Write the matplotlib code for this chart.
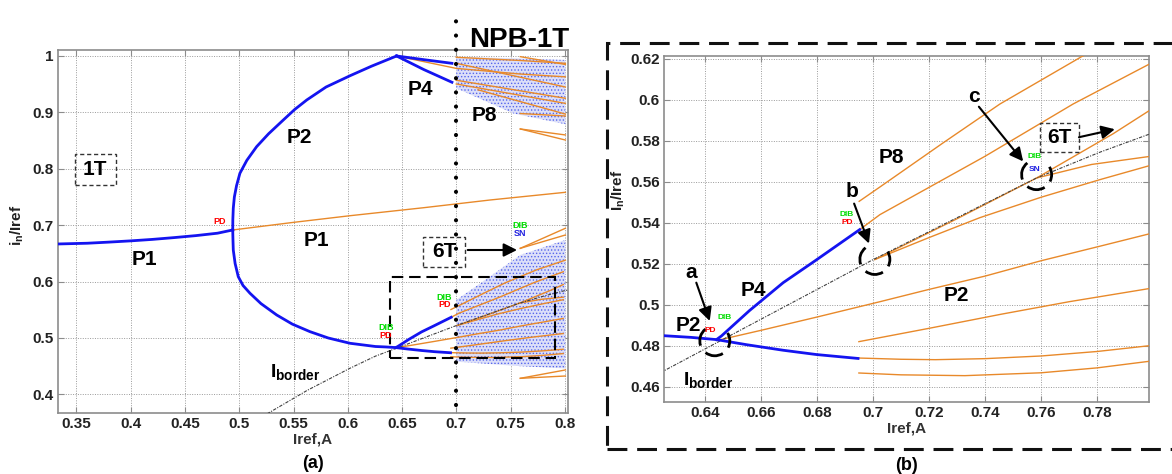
import matplotlib
matplotlib.use("Agg")
import matplotlib.pyplot as plt
from matplotlib.patches import Rectangle, Arc
from matplotlib.ticker import FuncFormatter

plt.rcParams['font.family'] = ['Liberation Sans', 'DejaVu Sans']
plt.rcParams['mathtext.fontset'] = 'custom'
plt.rcParams['mathtext.rm'] = 'Liberation Sans'
plt.rcParams['mathtext.bf'] = 'Liberation Sans:bold'
plt.rcParams['mathtext.it'] = 'Liberation Sans:italic'
plt.rcParams['hatch.linewidth'] = 0.6

# --- stable branches (blue) ---
p1_x = [0.333, 0.36, 0.38, 0.40, 0.42, 0.44, 0.46, 0.48, 0.494]
p1_y = [0.6667, 0.668, 0.670, 0.6722, 0.6748, 0.678, 0.6815, 0.6858, 0.6915]
p2_up_x = [0.494, 0.4941, 0.4945, 0.4955, 0.4975, 0.5006, 0.507, 0.516, 0.527, 0.5406,
           0.551, 0.5622, 0.58, 0.6021, 0.622, 0.645]
p2_up_y = [0.6915, 0.71, 0.73, 0.75, 0.77, 0.792, 0.815, 0.8392, 0.862, 0.8865,
           0.905, 0.922, 0.945, 0.965, 0.982, 1.0]
p2_lo_x = [0.494, 0.4942, 0.4945, 0.4962, 0.4991, 0.5035, 0.5099, 0.52, 0.5345, 0.549, 0.5652,
           0.582, 0.6021, 0.6255, 0.635, 0.6442, 0.655, 0.668, 0.6799, 0.6947]
p2_lo_y = [0.6915, 0.675, 0.656, 0.632, 0.6087, 0.593, 0.5793, 0.561, 0.5408, 0.5245, 0.5112,
           0.50, 0.4906, 0.4849, 0.4841, 0.4830, 0.4805, 0.4778, 0.4757, 0.4738]
p4_lo_x = [0.6442, 0.646, 0.656, 0.668, 0.6793, 0.6953]
p4_lo_y = [0.4830, 0.4848, 0.4972, 0.5108, 0.5214, 0.5367]
p4_hi_a_x = [0.645, 0.67, 0.696]
p4_hi_a_y = [1.0, 0.9935, 0.987]
p4_hi_b_x = [0.645, 0.67, 0.696]
p4_hi_b_y = [1.0, 0.976, 0.9534]

# --- border-collision curve ---
border_x = [0.52, 0.527, 0.5625, 0.602, 0.6255, 0.645, 0.6739, 0.70, 0.7584, 0.781, 0.7986, 0.805]
border_y = [0.359, 0.367, 0.407, 0.4463, 0.4678, 0.482, 0.503, 0.522, 0.5619, 0.5745, 0.5833, 0.586]

# --- unstable / higher-period orbits (orange), shared by both panels ---
orange_shared = {
    'p1': ([0.494, 0.55, 0.6021, 0.67, 0.7313, 0.8005], [0.6915, 0.705, 0.7168, 0.731, 0.7447, 0.7583]),
    'a': ([0.6454, 0.66, 0.68, 0.7025, 0.72, 0.74, 0.76, 0.781, 0.7985],
          [0.4829, 0.4875, 0.494, 0.5015, 0.5075, 0.514, 0.5215, 0.5286, 0.5346]),
    'b': ([0.695, 0.72, 0.7458, 0.77, 0.7985], [0.482, 0.4885, 0.4954, 0.5015, 0.5079]),
    'c': ([0.695, 0.71, 0.7223, 0.74, 0.76, 0.78, 0.7985], [0.474, 0.4734, 0.4732, 0.4737, 0.475, 0.4772, 0.48]),
    'd': ([0.695, 0.71, 0.7328, 0.76, 0.78, 0.7985], [0.4667, 0.4658, 0.4654, 0.4668, 0.4692, 0.4724]),
    'i': ([0.6951, 0.7025, 0.725, 0.7453, 0.7744, 0.8005], [0.5505, 0.5575, 0.579, 0.598, 0.6211, 0.638]),
    'ii': ([0.6953, 0.7025, 0.74, 0.7714, 0.7986], [0.5367, 0.544, 0.5725, 0.598, 0.6175]),
    'l3': ([0.7007, 0.73, 0.7584, 0.7857, 0.7986], [0.5221, 0.542, 0.5619, 0.5835, 0.5948]),
    'l6': ([0.7007, 0.72, 0.7381, 0.76, 0.781, 0.7986], [0.5221, 0.5328, 0.5425, 0.5525, 0.5611, 0.5679]),
    'l4': ([0.7584, 0.778, 0.7986], [0.5619, 0.5685, 0.5724]),
}
# orange orbits only seen in the full range
orange_full = [
    ([0.645, 0.70, 0.759, 0.8005], [1.0, 0.978, 0.968, 0.963]),
    ([0.70, 0.759, 0.8005], [0.9977, 0.992, 0.987]),
    ([0.759, 0.8005], [0.9988, 0.985]),
    ([0.70, 0.8005], [0.987, 0.945]),
    ([0.70, 0.8005], [0.957, 0.925]),
    ([0.70, 0.8005], [0.9504, 0.916]),
    ([0.72, 0.8005], [0.94, 0.897]),
    ([0.759, 0.8005], [0.898, 0.8936]),
    ([0.759, 0.8005], [0.8706, 0.86]),
    ([0.759, 0.8005], [0.8706, 0.851]),
    ([0.759, 0.8005], [0.659, 0.6945]),
    ([0.759, 0.8005], [0.659, 0.6826]),
    ([0.759, 0.8005], [0.4285, 0.4433]),
    ([0.759, 0.8005], [0.4285, 0.4326]),
]

# --- chaotic bands (edges of the point clouds) ---
chaos_hi_x = [0.70, 0.7528, 0.8005]
chaos_hi_top = [0.998, 0.996, 0.993]
chaos_hi_bot = [0.9427, 0.898, 0.879]
chaos_lo_x = [0.70, 0.7222, 0.759, 0.8005]
chaos_lo_top = [0.5674, 0.597, 0.6472, 0.6738]
chaos_lo_bot = [0.458, 0.455, 0.45, 0.446]

blue = '#1414f0'
orange = '#e8892a'
gray_border = '#404040'

fig = plt.figure(figsize=(11.72, 4.74), dpi=100)
ax1 = fig.add_axes([0.0495, 0.1287, 0.4352, 0.7658])
ax2 = fig.add_axes([0.5666, 0.1513, 0.4138, 0.7312])

fmt = FuncFormatter(lambda v, p: ('%g' % round(v, 3)))


def style_axes(ax):
    ax.grid(True, color='#9a9a9a', linestyle=(0, (1, 1.5)), linewidth=0.7)
    ax.set_axisbelow(True)
    for s in ax.spines.values():
        s.set_color('#8c8c8c')
        s.set_linewidth(1.2)
    ax.tick_params(direction='in', length=4, color='#8c8c8c', labelsize=11,
                   pad=3, top=True, right=True)
    for lab in ax.get_xticklabels() + ax.get_yticklabels():
        lab.set_fontweight('bold')
        lab.set_color('#222222')
    ax.xaxis.set_major_formatter(fmt)
    ax.yaxis.set_major_formatter(fmt)
    ax.set_xlabel('Iref,A', fontsize=11, fontweight='bold', color='#333333', labelpad=1)


def draw_orbits(ax):
    for xs, ys in orange_shared.values():
        ax.plot(xs, ys, color=orange, lw=1.0, zorder=3)
    ax.plot(border_x, border_y, color=gray_border, lw=0.8,
            linestyle=(0, (3, 1.2, 1, 1.2)), zorder=3.5)
    ax.plot(p2_lo_x, p2_lo_y, color=blue, lw=2.0, zorder=4)
    ax.plot(p4_lo_x, p4_lo_y, color=blue, lw=2.0, zorder=4)


def small_tag(ax, x, y, s, c, size=6.5):
    ax.text(x, y, s, color=c, fontsize=size, fontweight='bold', ha='center', va='center', zorder=6)


# ---------------- panel (a) ----------------
ax1.set_xlim(0.333, 0.803)
ax1.set_ylim(0.367, 1.0106)
ax1.set_xticks([0.35, 0.4, 0.45, 0.5, 0.55, 0.6, 0.65, 0.7, 0.75, 0.8])
ax1.set_yticks([0.4, 0.5, 0.6, 0.7, 0.8, 0.9, 1.0])
style_axes(ax1)

for lo, hi, xs in [(chaos_hi_bot, chaos_hi_top, chaos_hi_x), (chaos_lo_bot, chaos_lo_top, chaos_lo_x)]:
    ax1.fill_between(xs, lo, hi, facecolor='#dcdff9', edgecolor='#5565ec',
                     hatch='.....', linewidth=0, zorder=1)

draw_orbits(ax1)
for xs, ys in orange_full:
    ax1.plot(xs, ys, color=orange, lw=1.0, zorder=3)
ax1.plot(p1_x, p1_y, color=blue, lw=2.0, zorder=4)
ax1.plot(p2_up_x, p2_up_y, color=blue, lw=2.0, zorder=4)
ax1.plot(p4_hi_a_x, p4_hi_a_y, color=blue, lw=2.0, zorder=4)
ax1.plot(p4_hi_b_x, p4_hi_b_y, color=blue, lw=2.0, zorder=4)

# NPB line
ax1.plot([0.6995, 0.6995], [0.382, 1.073], color='black', lw=3.0,
         linestyle=(0, (0.01, 3.4)), dash_capstyle='round', clip_on=False, zorder=5)
ax1.text(0.758, 1.028, 'NPB-1T', fontsize=20, fontweight='bold', ha='center', va='center',
         clip_on=False)

# zoom window
ax1.add_patch(Rectangle((0.639, 0.464), 0.791 - 0.639, 0.609 - 0.464, fill=False,
                        edgecolor='black', lw=1.5, linestyle=(0, (5.5, 2.8)), zorder=5))

# boxed labels
ax1.add_patch(Rectangle((0.3484, 0.7713), 0.0379, 0.0549, fill=False, edgecolor='#333',
                        lw=1.0, linestyle=(0, (3, 2)), zorder=5))
ax1.text(0.3673, 0.7988, '1T', fontsize=15, fontweight='bold', ha='center', va='center')
ax1.add_patch(Rectangle((0.6696, 0.6255), 0.0384, 0.0542, fill=False, edgecolor='#333',
                        lw=1.0, linestyle=(0, (3, 2)), zorder=5))
ax1.text(0.6888, 0.6525, '6T', fontsize=15, fontweight='bold', ha='center', va='center', zorder=6)
ax1.annotate('', xy=(0.756, 0.656), xytext=(0.7105, 0.656),
             arrowprops=dict(arrowstyle='-|>', mutation_scale=20, lw=1.5, color='black',
                             shrinkA=0, shrinkB=0))

for txt, x, y in [('P1', 0.4124, 0.6395), ('P1', 0.5708, 0.672), ('P2', 0.5553, 0.8558),
                  ('P4', 0.6667, 0.9397), ('P8', 0.7257, 0.8936)]:
    ax1.text(x, y, txt, fontsize=15, fontweight='bold', ha='center', va='center', zorder=6)
ax1.text(0.528, 0.44, r'$\mathbf{I_{border}}$', fontsize=14, ha='left', va='center')

small_tag(ax1, 0.482, 0.707, 'PD', 'red')
small_tag(ax1, 0.635, 0.518, 'DIB', '#00dd00')
small_tag(ax1, 0.635, 0.505, 'PD', 'red')
small_tag(ax1, 0.689, 0.572, 'DIB', '#00dd00')
small_tag(ax1, 0.689, 0.559, 'PD', 'red')
small_tag(ax1, 0.759, 0.70, 'DIB', '#00dd00')
small_tag(ax1, 0.759, 0.685, 'SN', '#2020e0')

# ---------------- panel (b) ----------------
ax2.set_xlim(0.6255, 0.7985)
ax2.set_ylim(0.4524, 0.6216)
ax2.set_xticks([0.64, 0.66, 0.68, 0.7, 0.72, 0.74, 0.76, 0.78])
ax2.set_yticks([0.46, 0.48, 0.5, 0.52, 0.54, 0.56, 0.58, 0.6, 0.62])
style_axes(ax2)
draw_orbits(ax2)

rx, ry = 30 / 2802, 30 / 2055
for cx, cy in [(0.6436, 0.4824), (0.7007, 0.5221), (0.7584, 0.5635)]:
    for t1, t2 in [(120, 205), (-35, 40), (240, 295)]:
        ax2.add_patch(Arc((cx, cy), rx, ry, theta1=t1, theta2=t2, color='black', lw=2.0, zorder=6))

ax2.add_patch(Rectangle((0.7596, 0.5746), 0.0139, 0.0141, fill=False, edgecolor='#333',
                        lw=1.0, linestyle=(0, (3, 2)), zorder=5))
ax2.text(0.7666, 0.5816, '6T', fontsize=15, fontweight='bold', ha='center', va='center')
arrows_b = [((0.7735, 0.5818), (0.7863, 0.5857)), ((0.637, 0.5108), (0.6418, 0.4921)),
            ((0.6933, 0.5494), (0.6986, 0.5299)), ((0.7378, 0.5967), (0.7536, 0.57))]
for (x0, y0), (x1, y1) in arrows_b:
    ax2.annotate('', xy=(x1, y1), xytext=(x0, y0),
                 arrowprops=dict(arrowstyle='-|>', mutation_scale=20, lw=1.5, color='black',
                                 shrinkA=0, shrinkB=0), zorder=7)

for txt, x, y in [('a', 0.6353, 0.5157), ('b', 0.6924, 0.5554), ('c', 0.7361, 0.6016),
                  ('P2', 0.634, 0.4897), ('P4', 0.6572, 0.507), ('P8', 0.7066, 0.5721),
                  ('P2', 0.7298, 0.5043)]:
    ax2.text(x, y, txt, fontsize=15, fontweight='bold', ha='center', va='center', zorder=6)
ax2.text(0.6322, 0.4633, r'$\mathbf{I_{border}}$', fontsize=14, ha='left', va='center')

small_tag(ax2, 0.642, 0.4872, 'PD', 'red', 6)
small_tag(ax2, 0.6471, 0.4938, 'DIB', '#00dd00', 6)
small_tag(ax2, 0.6906, 0.544, 'DIB', '#00dd00', 6)
small_tag(ax2, 0.6908, 0.5400, 'PD', 'red', 6)
small_tag(ax2, 0.7578, 0.5724, 'DIB', '#00dd00', 6)
small_tag(ax2, 0.7575, 0.5659, 'SN', '#2020e0', 6)

# outer dashed frame around panel (b)
fig.add_artist(Rectangle((607 / 1172, 1 - 449 / 474), 0.6, 406 / 474, fill=False,
                         edgecolor='#111', lw=2.2, linestyle=(0, (6.5, 3.2)),
                         transform=fig.transFigure, clip_on=False))

# axis titles and panel tags
fig.text(17 / 1172, 1 - 225 / 474, r'$\mathbf{i_n/Iref}$', rotation=90, fontsize=11,
         ha='center', va='center', color='#222')
fig.text(618 / 1172, 1 - 190 / 474, r'$\mathbf{I_n/Iref}$', rotation=90, fontsize=11,
         ha='center', va='center', color='#222')
fig.text(313 / 1172, 1 - 463 / 474, '(a)', fontsize=13, fontweight='bold', ha='center', va='center')
fig.text(907 / 1172, 1 - 465 / 474, '(b)', fontsize=13, fontweight='bold', ha='center', va='center')

fig.savefig('out.png', dpi=100)
